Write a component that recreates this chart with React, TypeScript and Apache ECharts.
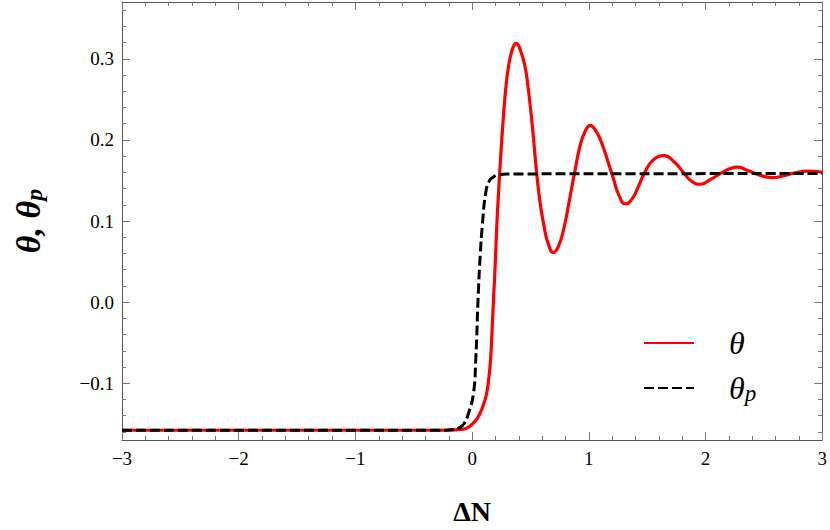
import React, { useEffect, useRef } from "react";
import * as echarts from "echarts";

// θ (solid red)
const thetaX = [
  -3.0, -0.5, -0.2, -0.1, -0.03, 0.03, 0.068, 0.1, 0.124, 0.145, 0.158, 0.172, 0.186, 0.2, 0.211, 0.228,
  0.248, 0.27, 0.29, 0.31, 0.335, 0.36, 0.378, 0.395, 0.41, 0.448, 0.476, 0.518, 0.547, 0.58, 0.617, 0.65, 0.696, 0.74, 0.786,
  0.83, 0.877, 0.927, 0.97, 1.012, 1.06, 1.11, 1.16, 1.209, 1.26, 1.314, 1.37, 1.42, 1.476, 1.55, 1.645,
  1.73, 1.815, 1.88, 1.955, 2.04, 2.133, 2.2, 2.274, 2.35, 2.435, 2.5, 2.576, 2.67, 2.76, 2.87, 2.95, 3.0,
];
const thetaY = [
  -0.158, -0.158, -0.1578, -0.157, -0.154, -0.146, -0.137, -0.125, -0.113, -0.091, -0.071, -0.031, 0.011, 0.054, 0.093, 0.139,
  0.187, 0.232, 0.266, 0.289, 0.307, 0.317, 0.319, 0.317, 0.312, 0.294, 0.269, 0.214, 0.168, 0.125, 0.093, 0.073, 0.061, 0.069, 0.091,
  0.123, 0.159, 0.194, 0.211, 0.218, 0.211, 0.196, 0.175, 0.153, 0.131, 0.121, 0.127, 0.141, 0.159, 0.175, 0.1805,
  0.173, 0.159, 0.149, 0.1453, 0.151, 0.159, 0.164, 0.1663, 0.163, 0.158, 0.155, 0.1535, 0.156, 0.159, 0.1616, 0.161, 0.16,
];

// θp (dashed black)
const thetaPX = [-3.0, -0.3, -0.15, -0.116, -0.07, -0.031, 0.011, 0.031, 0.053, 0.07, 0.087, 0.118, 0.15, 0.18, 0.22, 0.3, 3.0];
const thetaPY = [-0.158, -0.158, -0.157, -0.1555, -0.15, -0.137, -0.113, -0.071, 0.011, 0.059, 0.094, 0.136, 0.15, 0.154, 0.157, 0.158, 0.1585];

const xTicks = [-3, -2, -1, 0, 1, 2, 3];
const yMajorTicks = [-0.1, 0, 0.1, 0.2, 0.3];
const yMinorTicks = [
  -0.16, -0.14, -0.12, -0.08, -0.06, -0.04, -0.02, 0.02, 0.04, 0.06, 0.08, 0.12, 0.14, 0.16, 0.18, 0.22, 0.24,
  0.26, 0.28, 0.32, 0.34, 0.36,
];

const SERIF = "Liberation Serif, Times New Roman, DejaVu Serif, serif";
const FRAME = "#555";
const TICK = "#777";

const fmtY = (v: number) => (v < 0 ? "\u2212" : "") + Math.abs(v).toFixed(1);
const fmtX = (v: number) => (v < 0 ? "\u2212" + Math.abs(v) : String(v));

export default function App() {
  const ref = useRef<HTMLDivElement>(null);
  useEffect(() => {
    if (!ref.current) return;
    const chart = echarts.init(ref.current, undefined, { renderer: "svg" });
    const xBase = {
      type: "value",
      min: xTicks[0],
      max: xTicks[xTicks.length - 1],
      interval: 1,
      axisLine: { show: true, onZero: false, lineStyle: { color: FRAME, width: 1 } },
      axisTick: { show: true, inside: true, length: 8, lineStyle: { color: TICK } },
      minorTick: { show: true, splitNumber: 5, length: 4, lineStyle: { color: TICK } },
      splitLine: { show: false },
      minorSplitLine: { show: false },
    };
    const yBase = {
      type: "value",
      min: -0.17,
      max: 0.37,
      splitLine: { show: false },
    };
    const option = {
      animation: false,
      backgroundColor: "#fff",
      textStyle: { fontFamily: SERIF },
      grid: { left: 114, right: 7, top: 2, bottom: 87, containLabel: false },
      legend: {
        orient: "vertical",
        left: 638,
        top: 322,
        itemWidth: 50,
        itemHeight: 14,
        itemGap: 8,
        itemStyle: { opacity: 0 },
        data: ["θ", "θp"],
        formatter: (name: string) => (name === "θ" ? "{t|θ}" : "{t|θ}{s|p}"),
        textStyle: {
          fontFamily: SERIF,
          rich: {
            t: { fontFamily: SERIF, fontStyle: "italic", fontSize: 32, lineHeight: 34, color: "#000", padding: [0, 0, 0, 30] },
            s: { fontFamily: SERIF, fontStyle: "italic", fontSize: 23, lineHeight: 34, color: "#000", verticalAlign: "bottom", padding: [15, 0, 0, 0] },
          },
        },
      },
      xAxis: [
        {
          ...xBase,
          position: "bottom",
          axisLabel: { formatter: fmtX, color: "#000", fontFamily: SERIF, fontSize: 19, margin: 9 },
          name: "ΔN",
          nameLocation: "middle",
          nameGap: 57,
          nameTextStyle: { fontFamily: SERIF, fontWeight: "bold", fontSize: 28, color: "#000" },
        },
        { ...xBase, position: "top", axisLabel: { show: false } },
      ],
      yAxis: [
        {
          ...yBase,
          position: "left",
          axisLine: { show: true, onZero: false, lineStyle: { color: FRAME, width: 1 } },
          axisTick: { show: true, inside: true, length: 8, customValues: yMajorTicks, lineStyle: { color: TICK } },
          axisLabel: { customValues: yMajorTicks, formatter: fmtY, color: "#000", fontFamily: SERIF, fontSize: 19, margin: 8 },
          name: "{a|θ, θ}{b|p}",
          nameLocation: "middle",
          nameRotate: 90,
          nameGap: 76,
          nameTextStyle: {
            fontFamily: SERIF,
            rich: {
              a: { fontFamily: SERIF, fontWeight: "bold", fontStyle: "italic", fontSize: 34, lineHeight: 36, color: "#000" },
              b: { fontFamily: SERIF, fontWeight: "bold", fontStyle: "italic", fontSize: 24, lineHeight: 36, color: "#000", verticalAlign: "bottom", padding: [14, 0, 0, 0] },
            },
          },
        },
        {
          ...yBase,
          position: "left",
          axisLine: { show: false, onZero: false },
          axisTick: { show: true, inside: true, length: 4, customValues: yMinorTicks, lineStyle: { color: TICK } },
          axisLabel: { show: false },
        },
        {
          ...yBase,
          position: "right",
          axisLine: { show: true, onZero: false, lineStyle: { color: FRAME, width: 1 } },
          axisTick: { show: true, inside: true, length: 8, customValues: yMajorTicks, lineStyle: { color: TICK } },
          axisLabel: { show: false },
        },
        {
          ...yBase,
          position: "right",
          axisLine: { show: false, onZero: false },
          axisTick: { show: true, inside: true, length: 4, customValues: yMinorTicks, lineStyle: { color: TICK } },
          axisLabel: { show: false },
        },
      ],
      series: [
        {
          name: "θ",
          type: "line",
          xAxisIndex: 0,
          yAxisIndex: 0,
          data: thetaX.map((x, i) => [x, thetaY[i]]),
          showSymbol: false,
          symbol: "none",
          smooth: 0.5,
          lineStyle: { color: "#ff0000", width: 3.2 },
          itemStyle: { color: "#ff0000" },
          z: 2,
        },
        {
          name: "θp",
          type: "line",
          xAxisIndex: 0,
          yAxisIndex: 0,
          data: thetaPX.map((x, i) => [x, thetaPY[i]]),
          showSymbol: false,
          symbol: "none",
          smooth: 0.5,
          lineStyle: { color: "#000", width: 3, type: [10, 4] },
          itemStyle: { color: "#000" },
          z: 3,
        },
      ],
    };
    chart.setOption(option as any);
    return () => chart.dispose();
  }, []);
  return (
    <div
      ref={ref}
      style={{ position: "fixed", left: 0, top: 0, width: 830, height: 530, background: "#fff" }}
    />
  );
}
